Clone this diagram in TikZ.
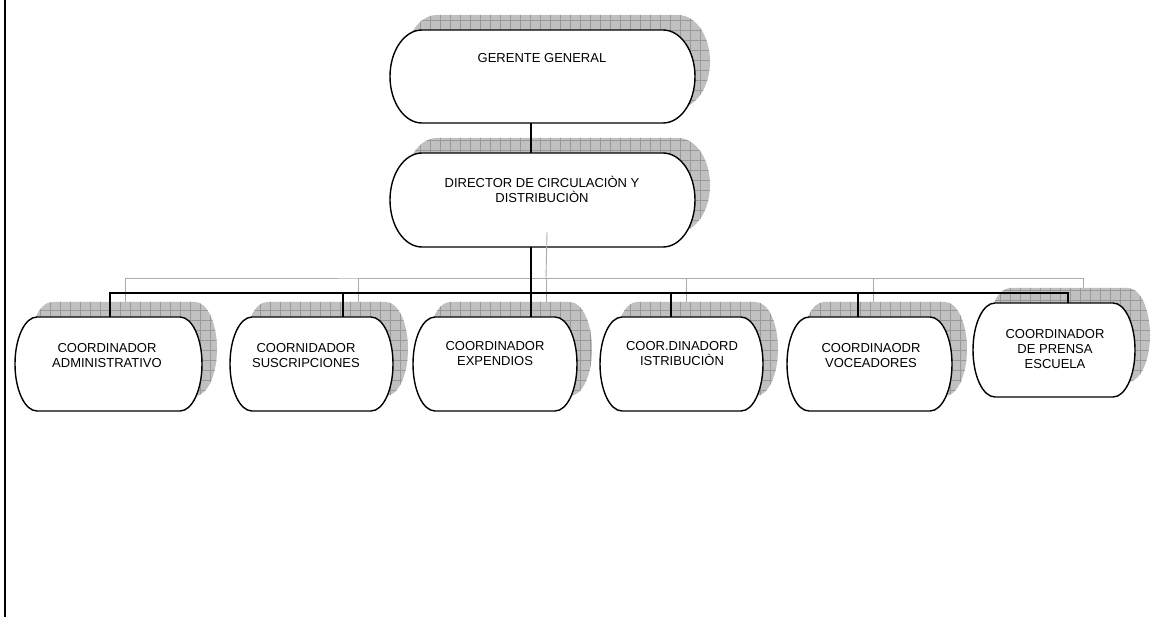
\documentclass[tikz,border=0pt]{standalone}
\usepackage{fontspec}
\setmainfont{Liberation Sans}
\definecolor{shadefill}{HTML}{C0C0C0}
\definecolor{shadegrid}{HTML}{999999}
\definecolor{ghostline}{HTML}{ABABAB}
\newcommand\termshape[5]{%
  ([xshift=#2+#4, yshift=#5]#1.north west) -- ([xshift=-#2+#4, yshift=#5]#1.north east)
  arc[start angle=90, end angle=-90, x radius=#2, y radius=#3]
  -- ([xshift=#2+#4, yshift=#5]#1.south west)
  arc[start angle=270, end angle=90, x radius=#2, y radius=#3] -- cycle}
\newcommand\shadowbox[3]{%
  \begin{scope}
    \clip \termshape{#1}{#2}{#3}{15pt}{15pt};
    \fill[shadefill] (0,0) rectangle (1161,617);
    \draw[shadegrid, line width=0.6pt, step=10pt] (0,0) grid (1161,617);
  \end{scope}}
\newcommand\mainbox[3]{%
  \path[boxline] \termshape{#1}{#2}{#3}{0pt}{0pt};}
\begin{document}
\begin{tikzpicture}[x=1pt, y=-1pt,
  anchorbox/.style={inner sep=0pt, outer sep=0pt, draw=none},
  boxline/.style={draw=black, fill=white, line width=1.4pt},
  conn/.style={draw=black, line width=1.4pt},
  ghost/.style={draw=ghostline, line width=0.9pt},
  lbl/.style={font=\fontsize{13}{15}\selectfont, align=center, inner sep=0pt}]
\useasboundingbox (0,0) rectangle (1161,617);
% anchor nodes for the boxes
\node[anchorbox, minimum width=305pt, minimum height=93pt] (gg) at (542.5,76.5) {};
\node[anchorbox, minimum width=305pt, minimum height=94pt] (dir) at (542.5,200) {};
\node[anchorbox, minimum width=187pt, minimum height=94pt] (c1) at (108.5,364) {};
\node[anchorbox, minimum width=163pt, minimum height=94pt] (c2) at (311.5,364) {};
\node[anchorbox, minimum width=164pt, minimum height=94pt] (c3) at (495,364) {};
\node[anchorbox, minimum width=163pt, minimum height=94pt] (c4) at (681.5,364) {};
\node[anchorbox, minimum width=165pt, minimum height=94pt] (c5) at (869.5,364) {};
\node[anchorbox, minimum width=162pt, minimum height=94pt] (c6) at (1054,350) {};
\coordinate (bus) at (531,293);
% left rule
\draw[line width=1.6pt] (5,0) -- (5,617);
% shadows
\shadowbox{gg}{32pt}{46.5pt}
\shadowbox{dir}{32pt}{47pt}
\shadowbox{c1}{22pt}{47pt}
\shadowbox{c2}{22pt}{47pt}
\shadowbox{c3}{22pt}{47pt}
\shadowbox{c4}{22pt}{47pt}
\shadowbox{c5}{22pt}{47pt}
\shadowbox{c6}{22pt}{47pt}
% boxes
\mainbox{gg}{32pt}{46.5pt}
\mainbox{dir}{32pt}{47pt}
\mainbox{c1}{22pt}{47pt}
\mainbox{c2}{22pt}{47pt}
\mainbox{c3}{22pt}{47pt}
\mainbox{c4}{22pt}{47pt}
\mainbox{c5}{22pt}{47pt}
\mainbox{c6}{22pt}{47pt}
% connector shadows
\draw[ghost] ([xshift=4.5pt, yshift=15pt]dir.south) -- ([xshift=15pt, yshift=15pt]bus);
\draw[ghost] ([xshift=16.5pt, yshift=15pt]c1.north) |- ([xshift=15pt, yshift=15pt]bus)
  -| ([xshift=29pt, yshift=15pt]c6.north);
\draw[ghost] ([xshift=46.5pt, yshift=15pt]c2.north) |- ([xshift=15pt, yshift=15pt]bus);
\draw[ghost] ([xshift=51pt, yshift=15pt]c3.north) |- ([xshift=15pt, yshift=15pt]bus);
\draw[ghost] ([xshift=4.5pt, yshift=15pt]c4.north) |- ([xshift=15pt, yshift=15pt]bus);
\draw[ghost] ([xshift=3.5pt, yshift=15pt]c5.north) |- ([xshift=15pt, yshift=15pt]bus);
% connectors
\draw[conn] ([xshift=-11.5pt]gg.south) -- ([xshift=-11.5pt]dir.north);
\draw[conn] ([xshift=-11.5pt]dir.south) -- (bus);
\draw[conn] ([xshift=1.5pt]c1.north) |- (bus) -| ([xshift=14pt]c6.north);
\draw[conn] ([xshift=31.5pt]c2.north) |- (bus);
\draw[conn] ([xshift=36pt]c3.north) |- (bus);
\draw[conn] ([xshift=-10.5pt]c4.north) |- (bus);
\draw[conn] ([xshift=-11.5pt]c5.north) |- (bus);
% texts
\node[lbl] (ggt) at (542,58) {GERENTE GENERAL};
\node[lbl] (dirt) at (542,189) {DIRECTOR DE CIRCULACIÒN Y\\DISTRIBUCIÒN};
\node[lbl] (c1t) at (107,355.5) {COORDINADOR\\ADMINISTRATIVO};
\node[lbl] (c2t) at (306,355.5) {COORNIDADOR\\SUSCRIPCIONES};
\node[lbl] (c3t) at (495,354) {COORDINADOR\\EXPENDIOS};
\node[lbl] (c4t) at (682,354) {COOR.DINADORD\\ISTRIBUCIÒN};
\node[lbl] (c5t) at (871,356) {COORDINAODR\\VOCEADORES};
\node[lbl] (c6t) at (1055,349) {COORDINADOR\\DE PRENSA\\ESCUELA};
\end{tikzpicture}
\end{document}
